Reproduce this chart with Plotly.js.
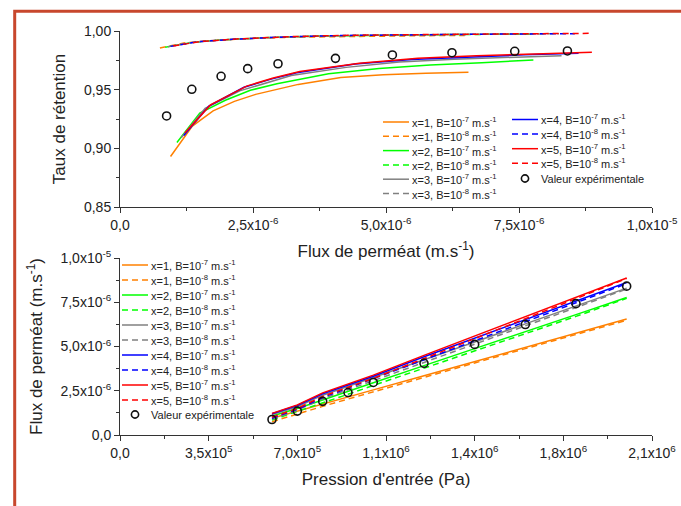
<!DOCTYPE html>
<html><head><meta charset="utf-8">
<script src="https://cdn.plot.ly/plotly-3.0.1.min.js"></script>
<style>html,body{margin:0;padding:0;background:#fff;}#chart{width:681px;height:506px;}</style>
</head><body><div id="chart"></div>
<script>
// ---- data ----
const pressure = [6e5,7e5,8e5,9e5,1e6,1.2e6,1.4e6,1.6e6,1.8e6,2e6];
const expFlux = [8.76e-7,1.35e-6,1.9e-6,2.4e-6,2.97e-6,4.05e-6,5.12e-6,6.24e-6,7.42e-6,8.41e-6];
const expRetention = [0.9276,0.9503,0.9614,0.9679,0.9721,0.9767,0.9796,0.9815,0.9827,0.983];

// model permeate flux (x 1e-6 m/s) at each pressure
const flux_x1_B7 = [0.95,1.36,1.75,2.15,2.55,3.35,4.15,4.95,5.75,6.55];
const flux_x1_B8 = [0.75,1.2,1.62,2.03,2.43,3.25,4.07,4.88,5.68,6.48];
const flux_x2_B7 = [1.07,1.5,1.98,2.45,2.95,3.92,4.87,5.83,6.8,7.77];
const flux_x2_B8 = [0.85,1.32,1.82,2.3,2.8,3.77,4.73,5.7,6.7,7.72];
const flux_x3_B7 = [1.15,1.6,2.25,2.75,3.22,4.25,5.25,6.28,7.3,8.3];
const flux_x3_B8 = [0.9,1.4,2.05,2.58,3.07,4.1,5.12,6.15,7.2,8.25];
const flux_x4_B7 = [1.2,1.67,2.33,2.84,3.32,4.42,5.48,6.54,7.59,8.62];
const flux_x4_B8 = [0.95,1.45,2.12,2.65,3.15,4.25,5.32,6.4,7.47,8.55];
const flux_x5_B7 = [1.22,1.7,2.38,2.88,3.38,4.5,5.6,6.7,7.8,8.87];
const flux_x5_B8 = [1.0,1.5,2.18,2.7,3.2,4.32,5.44,6.55,7.7,8.85];

// model retention rate
const ret_x1_B7 = [0.893,0.919,0.932,0.940,0.946,0.9545,0.9603,0.9627,0.9640,0.9648];
const ret_x1_B8 = [0.9855,0.9898,0.9915,0.9928,0.9936,0.9947,0.9953,0.9957,0.996,0.9962];
const ret_x2_B7 = [0.905,0.930,0.941,0.9495,0.955,0.9635,0.968,0.971,0.973,0.9753];
const ret_x2_B8 = [0.9862,0.990,0.9922,0.9935,0.9945,0.9957,0.9964,0.9968,0.9971,0.9973];
const ret_x3_B7 = [0.909,0.934,0.949,0.956,0.962,0.969,0.9735,0.976,0.9778,0.979];
const ret_x3_B8 = [0.9866,0.9905,0.9928,0.994,0.9948,0.996,0.9967,0.9971,0.9974,0.9976];
const ret_x4_B7 = [0.911,0.936,0.952,0.959,0.9645,0.9718,0.9758,0.978,0.9797,0.981];
const ret_x4_B8 = [0.9869,0.9908,0.993,0.9942,0.995,0.9962,0.9968,0.9972,0.9975,0.9977];
const ret_x5_B7 = [0.913,0.937,0.953,0.960,0.9655,0.9725,0.9768,0.979,0.9805,0.9818];
const ret_x5_B8 = [0.9872,0.991,0.9932,0.9944,0.9952,0.9964,0.997,0.9974,0.9977,0.998];

const seriesLabels = [
  "x=1, B=10<sup>-7</sup> m.s<sup>-1</sup>","x=1, B=10<sup>-8</sup> m.s<sup>-1</sup>",
  "x=2, B=10<sup>-7</sup> m.s<sup>-1</sup>","x=2, B=10<sup>-8</sup> m.s<sup>-1</sup>",
  "x=3, B=10<sup>-7</sup> m.s<sup>-1</sup>","x=3, B=10<sup>-8</sup> m.s<sup>-1</sup>",
  "x=4, B=10<sup>-7</sup> m.s<sup>-1</sup>","x=4, B=10<sup>-8</sup> m.s<sup>-1</sup>",
  "x=5, B=10<sup>-7</sup> m.s<sup>-1</sup>","x=5, B=10<sup>-8</sup> m.s<sup>-1</sup>"
];
const expLabel = "Valeur expérimentale";

const topXTickVals = [0,2.5e-6,5e-6,7.5e-6,1e-5];
const topXTickText = ["0,0","2,5x10<sup>-6</sup>","5,0x10<sup>-6</sup>","7,5x10<sup>-6</sup>","1,0x10<sup>-5</sup>"];
const topYTickVals = [0.85,0.90,0.95,1.00];
const topYTickText = ["0,85","0,90","0,95","1,00"];
const botXTickVals = [0,3.5e5,7e5,1.05e6,1.4e6,1.75e6,2.1e6];
const botXTickText = ["0,0","3,5x10<sup>5</sup>","7,0x10<sup>5</sup>","1,1x10<sup>6</sup>","1,4x10<sup>6</sup>","1,8x10<sup>6</sup>","2,1x10<sup>6</sup>"];
const botYTickVals = [0,2.5e-6,5e-6,7.5e-6,1e-5];
const botYTickText = ["0,0","2,5x10<sup>-6</sup>","5,0x10<sup>-6</sup>","7,5x10<sup>-6</sup>","1,0x10<sup>-5</sup>"];

// ---- build ----
const fluxSets = [flux_x1_B7,flux_x1_B8,flux_x2_B7,flux_x2_B8,flux_x3_B7,flux_x3_B8,flux_x4_B7,flux_x4_B8,flux_x5_B7,flux_x5_B8];
const retSets = [ret_x1_B7,ret_x1_B8,ret_x2_B7,ret_x2_B8,ret_x3_B7,ret_x3_B8,ret_x4_B7,ret_x4_B8,ret_x5_B7,ret_x5_B8];
const colors = ['#ff8000','#ff8000','#00ff00','#00ff00','#808080','#808080','#0000ff','#0000ff','#ff0000','#ff0000'];
const dashes = ['solid','6px,4px'];
const FONT = 'Liberation Sans, Arial, sans-serif';

const traces = [];
fluxSets.forEach((fs,i)=>{
  const f = fs.map(v=>v*1e-6);
  const line = {color:colors[i], width:1.5, dash:dashes[i%2]};
  traces.push({type:'scatter',mode:'lines',x:f,y:retSets[i],xaxis:'x',yaxis:'y',name:seriesLabels[i],line:line,showlegend:false});
  traces.push({type:'scatter',mode:'lines',x:pressure,y:f,xaxis:'x2',yaxis:'y2',name:seriesLabels[i],line:line,showlegend:false});
});
const mk = {symbol:'circle-open',size:8,color:'#111',line:{width:1.6,color:'#111'}};
traces.push({type:'scatter',mode:'markers',x:expFlux,y:expRetention,xaxis:'x',yaxis:'y',name:expLabel,marker:mk,showlegend:false});
traces.push({type:'scatter',mode:'markers',x:pressure,y:expFlux,xaxis:'x2',yaxis:'y2',name:expLabel,marker:mk,showlegend:false});

const W=681,H=506;
const px=p=>p/W, py=p=>1-p/H;
const mids=v=>v.slice(1).map((x,i)=>(x+v[i])/2);
const axisCommon = {showline:true,linecolor:'#333',linewidth:1,ticks:'outside',ticklen:5,tickcolor:'#333',
  showgrid:false,zeroline:false,tickfont:{family:FONT,size:14,color:'#222'},tickmode:'array'};
const minorOf = v=>({tickmode:'array',tickvals:mids(v),ticks:'outside',ticklen:3,tickcolor:'#333',showgrid:false});

const shapes = [{type:'rect',xref:'paper',yref:'paper',x0:px(14.7),x1:1.2,y0:-0.2,y1:py(11.3),line:{color:'#c8472d',width:3}}];
const annotations = [];
function legendItem(xl, yrow, i, label){
  if(i===null){
    shapes.push({type:'circle',xref:'paper',yref:'paper',x0:px(xl+13-3.6),x1:px(xl+13+3.6),y0:py(yrow+3.6),y1:py(yrow-3.6),line:{color:'#111',width:1.6}});
  } else {
    shapes.push({type:'line',xref:'paper',yref:'paper',x0:px(xl),x1:px(xl+26),y0:py(yrow),y1:py(yrow),line:{color:colors[i],width:1.5,dash:dashes[i%2]}});
  }
  annotations.push({xref:'paper',yref:'paper',x:px(xl+27),y:py(yrow),xanchor:'left',yanchor:'middle',showarrow:false,text:label,font:{family:FONT,size:11,color:'#222'}});
}
// top legend, two columns
for(let i=0;i<6;i++) legendItem(383, 122+14.3*i, i, seriesLabels[i]);
for(let i=6;i<10;i++) legendItem(512, 119.5+14.6*(i-6), i, seriesLabels[i]);
legendItem(512, 178.5, null, expLabel);
// bottom legend
for(let i=0;i<10;i++) legendItem(122, 265+15*i, i, seriesLabels[i]);
legendItem(122, 414.5, null, expLabel);

const titleFont = {family:FONT,size:17,color:'#222'};
const layout = {
  width:W,height:H,margin:{l:0,r:0,t:0,b:0},paper_bgcolor:'#fff',plot_bgcolor:'rgba(0,0,0,0)',showlegend:false,
  xaxis:Object.assign({},axisCommon,{domain:[px(120),px(652)],anchor:'y',range:[0,1e-5],tickvals:topXTickVals,ticktext:topXTickText,minor:minorOf(topXTickVals),
    title:{text:'Flux de perméat (m.s<sup>-1</sup>)',font:titleFont,standoff:13}}),
  yaxis:Object.assign({},axisCommon,{domain:[py(207),py(31)],anchor:'x',range:[0.85,1.0],tickvals:topYTickVals,ticktext:topYTickText,minor:minorOf(topYTickVals),
    title:{text:'Taux de rétention',font:titleFont,standoff:14}}),
  xaxis2:Object.assign({},axisCommon,{domain:[px(120),px(652)],anchor:'y2',range:[0,2.1e6],tickvals:botXTickVals,ticktext:botXTickText,minor:minorOf(botXTickVals),
    title:{text:"Pression d'entrée (Pa)",font:titleFont,standoff:13}}),
  yaxis2:Object.assign({},axisCommon,{domain:[py(435),py(258)],anchor:'x2',range:[0,1e-5],tickvals:botYTickVals,ticktext:botYTickText,minor:minorOf(botYTickVals),
    title:{text:'Flux de perméat (m.s<sup>-1</sup>)',font:titleFont,standoff:13}}),
  shapes:shapes,annotations:annotations
};
Plotly.newPlot('chart',traces,layout,{staticPlot:true,displayModeBar:false});
</script></body></html>
